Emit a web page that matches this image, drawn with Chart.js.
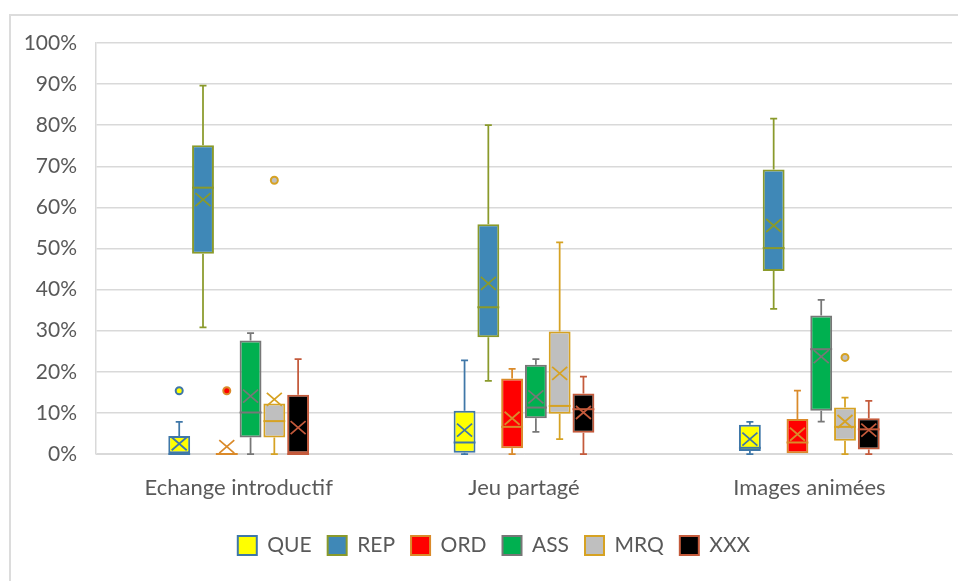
<!DOCTYPE html>
<html>
<head>
<meta charset="utf-8">
<script src="https://cdn.jsdelivr.net/npm/chart.js@4"></script>
<style>
    html, body { margin: 0; padding: 0; background: #fff; }
    #wrap { position: relative; width: 958px; height: 581px; }
    #frame {
        position: absolute; left: 9px; top: 14px; right: 0; bottom: 0;
        border-top: 2px solid #dcdcdc; border-left: 2px solid #dcdcdc;
        pointer-events: none;
    }
</style>
</head>
<body>
<div id="wrap">
    <canvas id="boxChart" width="958" height="581"></canvas>
    <div id="frame"></div>
</div>
<script>
const categories = ['Echange introductif', 'Jeu partagé', 'Images animées'];
const seriesNames = ['QUE', 'REP', 'ORD', 'ASS', 'MRQ', 'XXX'];
const yTicks = [0, 10, 20, 30, 40, 50, 60, 70, 80, 90, 100];

// one row per category: [low whisker, Q1, median, Q3, high whisker, mean] in %
const QUE = [[0, 0, 0, 4.4, 7.8, 2.5], [0, 0.3, 2.8, 10.5, 22.8, 5.8], [0, 0.7, 1.5, 7.1, 7.8, 3.6]];
const REP = [[30.8, 48.7, 64.8, 75.1, 89.6, 61.9], [17.8, 28.4, 35.7, 55.9, 80.0, 41.5], [35.3, 44.5, 50.1, 69.2, 81.6, 55.6]];
const ORD = [[0, 0, 0, 0, 0, 1.8], [0, 1.4, 6.6, 18.4, 20.7, 8.7], [0, 0, 2.8, 8.5, 15.4, 4.8]];
const ASS = [[0, 4.0, 10.1, 27.6, 29.4, 14.1], [5.4, 8.7, 11.3, 21.7, 23.1, 13.9], [7.9, 10.5, 25.5, 33.7, 37.5, 23.7]];
const MRQ = [[0, 4.0, 8.0, 12.3, 12.3, 13.3], [3.6, 9.8, 11.7, 29.8, 51.5, 19.6], [0, 3.2, 6.6, 11.3, 13.7, 7.9]];
const XXX = [[0, 0, 0, 14.4, 23.1, 6.4], [0, 5.2, 10.9, 14.7, 18.8, 10.1], [0, 1.1, 6.0, 8.7, 12.9, 5.8]];

// outliers per category
const QUE_OUT = [[15.4], [], []];
const REP_OUT = [[], [], []];
const ORD_OUT = [[15.4], [], []];
const ASS_OUT = [[], [], []];
const MRQ_OUT = [[66.6], [], [23.5]];
const XXX_OUT = [[], [], []];

const fills = ['#ffff00', '#3f88b7', '#ff0000', '#00b050', '#bfbfbf', '#000000'];
const strokes = ['#3f77a8', '#8a9a2b', '#da8a2a', '#777777', '#d6a223', '#c45a3b'];

const allStats = [QUE, REP, ORD, ASS, MRQ, XXX];
const allOut = [QUE_OUT, REP_OUT, ORD_OUT, ASS_OUT, MRQ_OUT, XXX_OUT];

// Whiskers, median, mean cross and outliers on top of the floating bars
const boxPlugin = {
    id: 'boxWhisker',
    afterLayout(chart) {
        // legend sits a bit right of the canvas centre in the original
        chart.legend.left += 13;
        chart.legend.right += 13;
    },
    afterDatasetsDraw(chart) {
        const ctx = chart.ctx;
        const y = chart.scales.y;
        chart.data.datasets.forEach((ds, i) => {
            const meta = chart.getDatasetMeta(i);
            if (meta.hidden) return;
            meta.data.forEach((bar, j) => {
                const [lo, q1, med, q3, hi, mean] = ds.stats[j];
                const x = bar.x;
                const half = bar.width / 2;
                ctx.save();
                ctx.strokeStyle = ds.borderColor;
                ctx.lineWidth = 1.75;
                // whiskers
                ctx.beginPath();
                if (hi > q3) {
                    ctx.moveTo(x, y.getPixelForValue(q3));
                    ctx.lineTo(x, y.getPixelForValue(hi));
                    ctx.moveTo(x - 3.5, y.getPixelForValue(hi));
                    ctx.lineTo(x + 3.5, y.getPixelForValue(hi));
                }
                if (lo < q1) {
                    ctx.moveTo(x, y.getPixelForValue(q1));
                    ctx.lineTo(x, y.getPixelForValue(lo));
                    ctx.moveTo(x - 3.5, y.getPixelForValue(lo));
                    ctx.lineTo(x + 3.5, y.getPixelForValue(lo));
                }
                ctx.stroke();
                // median
                ctx.lineWidth = 2;
                ctx.beginPath();
                ctx.moveTo(x - half, y.getPixelForValue(med));
                ctx.lineTo(x + half, y.getPixelForValue(med));
                ctx.stroke();
                // mean cross
                const my = y.getPixelForValue(mean);
                ctx.lineWidth = 1.75;
                ctx.beginPath();
                ctx.moveTo(x - 7.5, my - 6.5);
                ctx.lineTo(x + 7.5, my + 6.5);
                ctx.moveTo(x + 7.5, my - 6.5);
                ctx.lineTo(x - 7.5, my + 6.5);
                ctx.stroke();
                // outliers
                ds.outliers[j].forEach(v => {
                    ctx.beginPath();
                    ctx.arc(x, y.getPixelForValue(v), 3.5, 0, Math.PI * 2);
                    ctx.fillStyle = ds.backgroundColor;
                    ctx.fill();
                    ctx.lineWidth = 2;
                    ctx.stroke();
                });
                ctx.restore();
            });
        });
    }
};

const datasets = seriesNames.map((name, i) => ({
    label: name,
    data: allStats[i].map(r => [r[1], r[3]]),
    stats: allStats[i],
    outliers: allOut[i],
    backgroundColor: fills[i],
    borderColor: strokes[i],
    borderWidth: 2,
    borderSkipped: false,
    categoryPercentage: 0.5,
    barPercentage: 0.92
}));

const fontFamily = 'Lato, "Open Sans", sans-serif';

new Chart(document.getElementById('boxChart').getContext('2d'), {
    type: 'bar',
    data: { labels: categories, datasets: datasets },
    options: {
        responsive: false,
        animation: false,
        layout: { padding: { left: 10, right: 6, top: 43, bottom: 15 } },
        plugins: {
            legend: {
                position: 'bottom',
                labels: {
                    color: '#595959',
                    boxWidth: 19,
                    boxHeight: 19,
                    padding: 16,
                    font: { family: fontFamily, size: 21 }
                }
            },
            tooltip: { enabled: false }
        },
        scales: {
            x: {
                grid: { display: false, drawTicks: false },
                border: { color: '#d9d9d9' },
                ticks: {
                    color: '#595959',
                    padding: 21,
                    font: { family: fontFamily, size: 22 }
                },
                afterFit(axis) { axis.height = 65; }
            },
            y: {
                min: 0,
                max: 100,
                afterBuildTicks(axis) { axis.ticks = yTicks.map(v => ({ value: v })); },
                grid: { color: '#d9d9d9', lineWidth: 1.5, drawTicks: false },
                border: { color: '#d9d9d9', width: 1.5 },
                ticks: {
                    color: '#595959',
                    padding: 19,
                    font: { family: fontFamily, size: 21 },
                    callback: v => v + '%'
                },
                afterFit(axis) { axis.width = 86; }
            }
        }
    },
    plugins: [boxPlugin]
});
</script>
</body>
</html>
